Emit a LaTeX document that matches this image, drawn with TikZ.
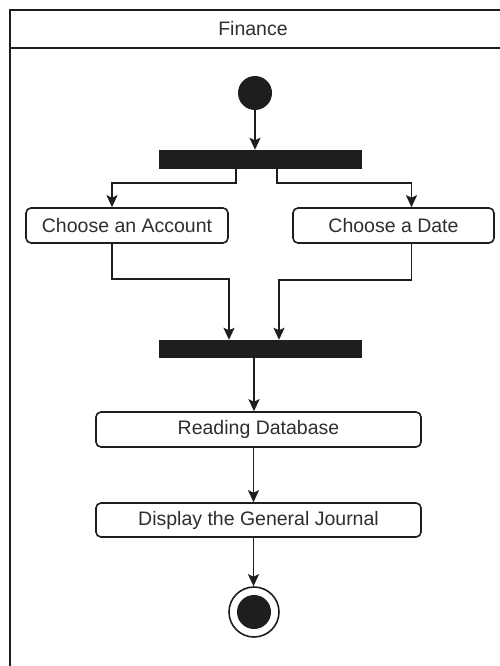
\documentclass[tikz,border=0pt]{standalone}
\usepackage{fontspec}
\setmainfont{Liberation Sans}
\usetikzlibrary{arrows.meta}
\definecolor{ink}{HTML}{1E1E1E}
\definecolor{txt}{HTML}{2E2E2E}
\tikzset{
  flow/.style={draw=ink, line width=1.8pt, -{Stealth[length=12pt,width=11pt,inset=2.5pt]}},
  action/.style={draw=ink, line width=1.6pt, rounded corners=5pt, fill=white,
    inner sep=0pt, text=txt, font=\fontsize{19.5}{22}\selectfont},
  syncbar/.style={fill=ink, draw=ink, inner sep=0pt, minimum width=202pt, minimum height=18pt},
  startdot/.style={circle, fill=ink, inner sep=0pt, minimum size=34pt},
  endring/.style={circle, draw=ink, line width=1.6pt, fill=white, inner sep=0pt, minimum size=50pt},
  enddot/.style={circle, fill=ink, inner sep=0pt, minimum size=34pt},
  lane/.style={draw=ink, line width=2pt}
}
\begin{document}
\begin{tikzpicture}[x=1pt, y=-1pt]
\useasboundingbox (0,0) rectangle (500,666);
\clip (0,0) rectangle (500,666);
\fill[white] (0,0) rectangle (500,666);

% swimlane frame and header
\draw[lane] (10,680) -- (10,10) -- (520,10);
\draw[lane] (10,48) -- (520,48);
\node[text=txt, font=\fontsize{19.5}{22}\selectfont] (title) at (253,29) {Finance};

% nodes
\node[startdot] (start) at (255,93) {};
\node[syncbar] (fork) at (260,159) {};
\node[action, minimum width=202pt, minimum height=35pt] (acct) at (127,225.5) {Choose an Account};
\node[action, minimum width=201pt, minimum height=35pt] (date) at (393.5,225.5) {Choose a Date};
\node[syncbar, minimum height=17pt] (join) at (260,348.5) {};
\node[action, minimum width=325pt, minimum height=35pt] (read) at (258.5,429.5) {Reading Database};
\node[action, minimum width=325pt, minimum height=34pt] (journal) at (258.5,520) {Display the General Journal};
\node[endring] (final) at (254,612) {};
\node[enddot] (finaldot) at (final) {};

% connectors
\draw[flow] (start) -- (start |- fork.north);
\draw[flow] ([xshift=-24pt]fork.south) -- ++(0,15) -| ([xshift=-15pt]acct.north);
\draw[flow] ([xshift=17pt]fork.south) -- ++(0,15) -| ([xshift=18pt]date.north);
\draw[flow] ([xshift=-15pt]acct.south) -- ++(0,35) -| ([xshift=-31pt]join.north);
\draw[flow] ([xshift=18pt]date.south) -- ++(0,36) -| ([xshift=19pt]join.north);
\draw[flow] ([xshift=-6pt]join.south) -- ([xshift=-6pt]join.south |- read.north);
\draw[flow] ([xshift=-5pt]read.south) -- ([xshift=-5pt]read.south |- journal.north);
\draw[flow] ([xshift=-5pt]journal.south) -- ([xshift=-5pt]journal.south |- final.north);
\end{tikzpicture}
\end{document}
